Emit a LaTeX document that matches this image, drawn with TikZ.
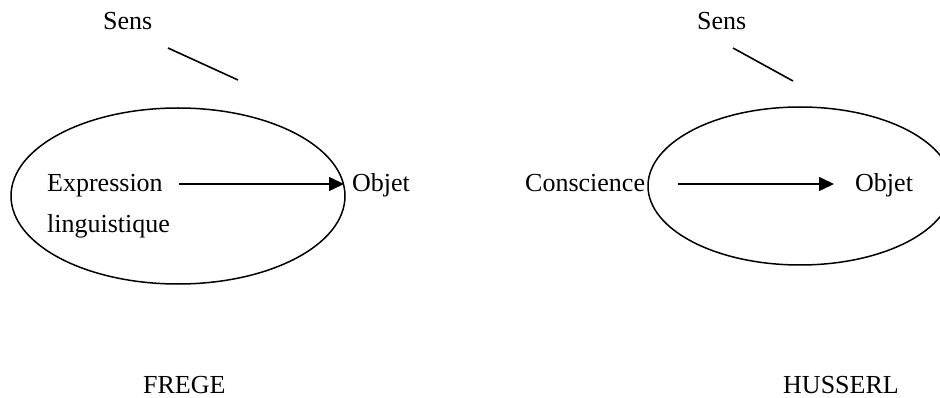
\documentclass[tikz,border=0pt]{standalone}
\usepackage{fontspec}
\setmainfont{Liberation Serif}
\usetikzlibrary{arrows.meta,shapes.geometric}
\begin{document}
\begin{tikzpicture}[x=1pt,y=-1pt,
  lbl/.style={anchor=base west,inner sep=0pt,font=\fontsize{26}{31}\selectfont},
  oval/.style={draw,ellipse,line width=1.5pt,inner sep=0pt},
  link/.style={line width=1.6pt},
  arr/.style={line width=1.5pt,-{Triangle[length=15pt,width=14pt]}}]
\useasboundingbox (0,0) rectangle (940,398);
% FREGE
\node[oval,minimum width=334pt,minimum height=176pt] (e1) at (178,196) {};
\node[lbl] (sens1) at (103,30) {Sens};
\coordinate (s1a) at (168,48);
\coordinate (s1b) at (238,80);
\draw[link] (s1a) -- (s1b);
\node[lbl] (expr) at (47,192) {Expression};
\node[lbl] (ling) at (47,233) {linguistique};
\node[lbl] (obj1) at (352,192) {Objet};
\coordinate (a1s) at (179,184);
\coordinate (a1e) at (344,184);
\draw[arr] (a1s) -- (a1e);
\node[lbl] (frege) at (143,393) {FREGE};
% HUSSERL
\node[oval,minimum width=304pt,minimum height=158pt] (e2) at (800,186) {};
\node[lbl] (sens2) at (697,30) {Sens};
\coordinate (s2a) at (733,48);
\coordinate (s2b) at (793,81);
\draw[link] (s2a) -- (s2b);
\node[lbl] (consc) at (525,192) {Conscience};
\node[lbl] (obj2) at (855,192) {Objet};
\coordinate (a2s) at (678,184);
\coordinate (a2e) at (834,184);
\draw[arr] (a2s) -- (a2e);
\node[lbl] (husserl) at (783,393) {HUSSERL};
\end{tikzpicture}
\end{document}
